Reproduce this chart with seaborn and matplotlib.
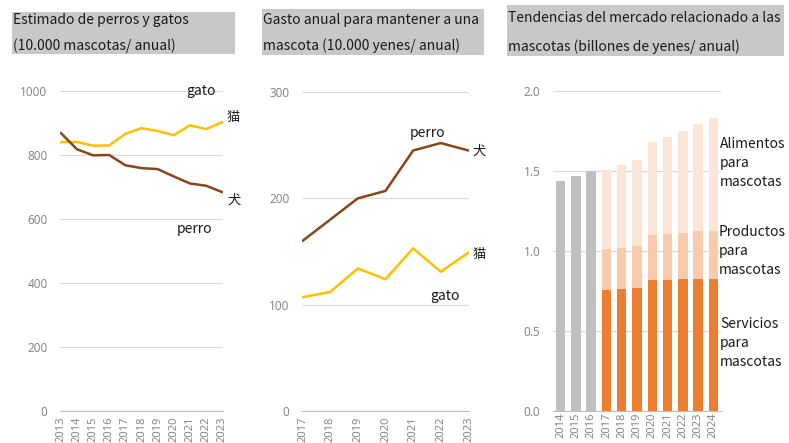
import matplotlib
matplotlib.use("Agg")
import matplotlib.pyplot as plt
import seaborn as sns
import pandas as pd
import numpy as np
from matplotlib.patches import Rectangle

# ---------------- data ----------------
years_pop = [2013, 2014, 2015, 2016, 2017, 2018, 2019, 2020, 2021, 2022, 2023]
cats_pop = [840, 841, 829, 830, 866, 884, 875, 862, 893, 881, 903]
dogs_pop = [869, 818, 799, 800, 768, 759, 756, 733, 711, 704, 684]

years_cost = [2017, 2018, 2019, 2020, 2021, 2022, 2023]
dogs_cost = [160, 180, 200, 207, 245, 252, 245]
cats_cost = [107, 112, 134, 124, 153, 131, 149]

years_mkt = ['2014', '2015', '2016', '2017', '2018', '2019', '2020', '2021', '2022', '2023', '2024']
years_hist = ['2014', '2015', '2016']
total_hist = [1.44, 1.47, 1.50]
years_split = ['2017', '2018', '2019', '2020', '2021', '2022', '2023', '2024']
services = [0.757, 0.760, 0.767, 0.817, 0.818, 0.822, 0.825, 0.826]
products = [0.255, 0.260, 0.265, 0.283, 0.288, 0.290, 0.297, 0.296]
food = [0.495, 0.520, 0.535, 0.580, 0.605, 0.640, 0.670, 0.710]

title1 = ["Estimado de perros y gatos", "(10.000 mascotas/ anual)"]
title2 = ["Gasto anual para mantener a una", "mascota (10.000 yenes/ anual)"]
title3 = ["Tendencias del mercado relacionado a las", "mascotas (billones de yenes/ anual)"]

# ---------------- style ----------------
sns.set_theme(style="white")
plt.rcParams['font.family'] = ['Noto Sans CJK JP', 'DejaVu Sans']

DOG = '#8B4518'
CAT = '#FFC000'
GRAY = '#BFBFBF'
SERV = '#ED7D31'
PROD = '#F8CBAD'
FOOD = '#FBE5D6'
TICKC = '#808080'
GRID = '#D9D9D9'
TXT = '#1a1a1a'
TICKFONT = ['Open Sans', 'DejaVu Sans']

W, H = 789, 443
fig = plt.figure(figsize=(W / 100, H / 100), dpi=100)


def ax_px(x0, x1, ytop, ybot):
    return fig.add_axes([x0 / W, 1 - ybot / H, (x1 - x0) / W, (ybot - ytop) / H])


def style_axes(ax, yticks, fmt, ticks=True):
    ax.set_yticks(yticks)
    ax.set_yticklabels([fmt(v) for v in yticks])
    ax.yaxis.grid(True, color=GRID, linewidth=0.8)
    ax.set_axisbelow(True)
    for s in ['left', 'right', 'top']:
        ax.spines[s].set_visible(False)
    ax.spines['bottom'].set_color(GRAY)
    ax.spines['bottom'].set_linewidth(0.8)
    ax.tick_params(axis='y', length=0, pad=9)
    ax.tick_params(axis='x', length=3 if ticks else 0, color=GRAY, width=0.8,
                   rotation=90, pad=1)
    for lab in ax.get_yticklabels():
        lab.set_family(TICKFONT)
        lab.set_fontsize(8.5)
        lab.set_color(TICKC)
    for lab in ax.get_xticklabels():
        lab.set_family(TICKFONT)
        lab.set_fontsize(8)
        lab.set_color(TICKC)
    ax.set_xlabel('')
    ax.set_ylabel('')


def title_box(x0, x1, y0, y1, lines, tx, ty1, ty2, fs=10):
    fig.patches.append(Rectangle((x0 / W, 1 - y1 / H), (x1 - x0) / W, (y1 - y0) / H,
                                 transform=fig.transFigure, facecolor='#C8C8C8',
                                 edgecolor='none', zorder=0))
    fig.text(tx / W, 1 - ty1 / H, lines[0], fontsize=fs, va='center', ha='left', color=TXT)
    fig.text(tx / W, 1 - ty2 / H, lines[1], fontsize=fs, va='center', ha='left', color=TXT)


# ---------------- panel 1 ----------------
ax1 = ax_px(60, 223, 91, 411)
df1 = pd.DataFrame({'year': years_pop, 'gato': cats_pop, 'perro': dogs_pop})
sns.lineplot(data=df1, x='year', y='gato', ax=ax1, color=CAT, linewidth=1.8)
sns.lineplot(data=df1, x='year', y='perro', ax=ax1, color=DOG, linewidth=1.8)
ax1.set_ylim(0, 1000)
ax1.set_xlim(2013 - 0.05, 2023 + 0.05)
ax1.set_xticks(years_pop)
ax1.set_xticklabels([str(y) for y in years_pop])
style_axes(ax1, [0, 200, 400, 600, 800, 1000], lambda v: f"{v}")
ax1.text(2022.6, 1000, 'gato', fontsize=10, ha='right', va='center', color=TXT)
ax1.text(2023.3, 916, '猫', fontsize=9.5, ha='left', va='center', color=TXT)
ax1.text(2023.3, 659, '犬', fontsize=9.5, ha='left', va='center', color=TXT)
ax1.text(2021.26, 569, 'perro', fontsize=10, ha='center', va='center', color=TXT)

# ---------------- panel 2 ----------------
ax2 = ax_px(302, 469, 92, 411)
df2 = pd.DataFrame({'year': years_cost, 'perro': dogs_cost, 'gato': cats_cost})
sns.lineplot(data=df2, x='year', y='perro', ax=ax2, color=DOG, linewidth=1.8)
sns.lineplot(data=df2, x='year', y='gato', ax=ax2, color=CAT, linewidth=1.8)
ax2.set_ylim(0, 300)
ax2.set_xlim(2017 - 0.02, 2023 + 0.02)
ax2.set_xticks(years_cost)
ax2.set_xticklabels([str(y) for y in years_cost])
style_axes(ax2, [0, 100, 200, 300], lambda v: f"{v}")
ax2.text(2021.52, 261, 'perro', fontsize=10, ha='center', va='center', color=TXT)
ax2.text(2023.15, 244, '犬', fontsize=9.5, ha='left', va='center', color=TXT)
ax2.text(2023.15, 147, '猫', fontsize=9.5, ha='left', va='center', color=TXT)
ax2.text(2022.14, 108, 'gato', fontsize=10, ha='center', va='center', color=TXT)

# ---------------- panel 3 ----------------
ax3 = ax_px(553, 721, 91, 411)
tot_split = [s + p + f for s, p, f in zip(services, products, food)]
sp_split = [s + p for s, p in zip(services, products)]
bw = 0.62
sns.barplot(x=years_hist, y=total_hist, order=years_mkt, color=GRAY, width=bw,
            linewidth=0, saturation=1, ax=ax3)
sns.barplot(x=years_split, y=tot_split, order=years_mkt, color=FOOD, width=bw,
            linewidth=0, saturation=1, ax=ax3)
sns.barplot(x=years_split, y=sp_split, order=years_mkt, color=PROD, width=bw,
            linewidth=0, saturation=1, ax=ax3)
sns.barplot(x=years_split, y=services, order=years_mkt, color=SERV, width=bw,
            linewidth=0, saturation=1, ax=ax3)
ax3.set_ylim(0, 2.0)
ax3.set_xlim(-0.5, len(years_mkt) - 0.5)
style_axes(ax3, [0.0, 0.5, 1.0, 1.5, 2.0], lambda v: f"{v:.1f}", ticks=False)
ax3.text(10.45, 1.55, 'Alimentos\npara\nmascotas', fontsize=10, ha='left', va='center',
         linespacing=1.5, color=TXT)
ax3.text(10.32, 1.00, 'Productos\npara\nmascotas', fontsize=10, ha='left', va='center',
         linespacing=1.5, color=TXT)
ax3.text(10.45, 0.425, 'Servicios\npara\nmascotas', fontsize=10, ha='left', va='center',
         linespacing=1.5, color=TXT)

# ---------------- titles ----------------
title_box(12, 235, 12, 54, title1, 13, 20, 45.5)
title_box(262, 484, 9, 55, title2, 263, 20, 45.5)
title_box(507, 784, 5, 56, title3, 508, 18.5, 47)

fig.savefig('out.png', dpi=100)
